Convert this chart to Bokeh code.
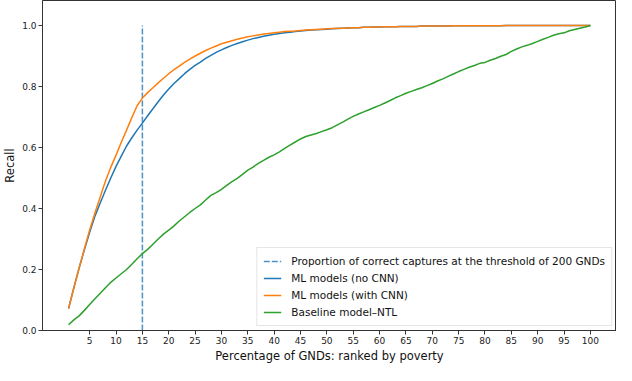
from bokeh.plotting import figure
from bokeh.models import Range1d, FixedTicker, Legend, LegendItem, NumeralTickFormatter
from bokeh.embed import file_html
from bokeh.resources import INLINE

pct = list(range(1, 101))

recall_no_cnn = [
    0.072, 0.140, 0.205, 0.265, 0.322, 0.375, 0.418, 0.460, 0.500, 0.538,
    0.572, 0.605, 0.632, 0.657, 0.680, 0.704, 0.727, 0.750, 0.772, 0.792,
    0.810, 0.826, 0.842, 0.856, 0.869, 0.880, 0.892, 0.902, 0.912, 0.920,
    0.928, 0.935, 0.941, 0.947, 0.952, 0.957, 0.961, 0.965, 0.968, 0.971,
    0.974, 0.976, 0.978, 0.980, 0.982, 0.984, 0.985, 0.986, 0.987, 0.988,
    0.989, 0.990, 0.991, 0.992, 0.993, 0.993, 0.994, 0.994, 0.995, 0.995,
    0.996, 0.996, 0.996, 0.997, 0.997, 0.997, 0.997, 0.998, 0.998, 0.998,
    0.998, 0.998, 0.998, 0.999, 0.999, 0.999, 0.999, 0.999, 0.999, 0.999,
    0.999, 0.999, 0.999, 1.000, 1.000, 1.000, 1.000, 1.000, 1.000, 1.000,
    1.000, 1.000, 1.000, 1.000, 1.000, 1.000, 1.000, 1.000, 1.000, 1.000,
]

recall_with_cnn = [
    0.072, 0.140, 0.205, 0.268, 0.330, 0.385, 0.438, 0.490, 0.535, 0.575,
    0.617, 0.657, 0.698, 0.737, 0.762, 0.780, 0.796, 0.812, 0.827, 0.842,
    0.855, 0.867, 0.879, 0.890, 0.900, 0.909, 0.918, 0.926, 0.933, 0.940,
    0.945, 0.950, 0.955, 0.959, 0.963, 0.966, 0.969, 0.972, 0.974, 0.976,
    0.978, 0.980, 0.981, 0.982, 0.984, 0.985, 0.986, 0.987, 0.988, 0.989,
    0.990, 0.991, 0.991, 0.992, 0.993, 0.993, 0.994, 0.994, 0.995, 0.995,
    0.996, 0.996, 0.996, 0.997, 0.997, 0.997, 0.997, 0.998, 0.998, 0.998,
    0.998, 0.998, 0.998, 0.999, 0.999, 0.999, 0.999, 0.999, 0.999, 0.999,
    0.999, 0.999, 0.999, 1.000, 1.000, 1.000, 1.000, 1.000, 1.000, 1.000,
    1.000, 1.000, 1.000, 1.000, 1.000, 1.000, 1.000, 1.000, 1.000, 1.000,
]

recall_baseline = [
    0.019, 0.035, 0.048, 0.066, 0.085, 0.104, 0.122, 0.140, 0.158, 0.172,
    0.186, 0.200, 0.217, 0.235, 0.252, 0.266, 0.283, 0.300, 0.316, 0.329,
    0.343, 0.359, 0.373, 0.387, 0.400, 0.412, 0.428, 0.443, 0.452, 0.463,
    0.476, 0.488, 0.499, 0.512, 0.526, 0.536, 0.548, 0.558, 0.568, 0.576,
    0.586, 0.597, 0.608, 0.618, 0.628, 0.636, 0.641, 0.646, 0.652, 0.658,
    0.665, 0.674, 0.683, 0.693, 0.702, 0.710, 0.717, 0.724, 0.731, 0.738,
    0.746, 0.754, 0.763, 0.770, 0.778, 0.784, 0.790, 0.796, 0.803, 0.810,
    0.818, 0.825, 0.833, 0.841, 0.849, 0.856, 0.863, 0.869, 0.876, 0.879,
    0.886, 0.892, 0.899, 0.905, 0.915, 0.923, 0.930, 0.935, 0.941, 0.948,
    0.955, 0.961, 0.968, 0.973, 0.976, 0.983, 0.987, 0.991, 0.995, 1.000,
]

threshold_x = [15, 15]
threshold_y = [0.0, 1.0]

x_ticks = list(range(5, 101, 5))
y_ticks = [0.0, 0.2, 0.4, 0.6, 0.8, 1.0]

legend_labels = [
    "Proportion of correct captures at the threshold of 200 GNDs",
    "ML models (no CNN)",
    "ML models (with CNN)",
    "Baseline model\u2013NTL",
]

FONT = "DejaVu Sans"

p = figure(width=616, height=365, output_backend="svg", toolbar_location=None,
           x_range=Range1d(-3.95, 104.95), y_range=Range1d(0.0, 1.082),
           min_border_top=0, min_border_right=0, min_border_left=20, min_border_bottom=5)

p.xgrid.visible = False
p.ygrid.visible = False
p.outline_line_color = "#333333"
p.outline_line_width = 1
p.outline_line_alpha = 1.0

r_thr = p.line(threshold_x, threshold_y, line_color="#1f77b4", line_alpha=0.8,
               line_width=1.5, line_dash="6 2")
r_blue = p.line(pct, recall_no_cnn, line_color="#1f77b4", line_width=1.5)
r_orange = p.line(pct, recall_with_cnn, line_color="#ff7f0e", line_width=1.5)
r_green = p.line(pct, recall_baseline, line_color="#2ca02c", line_width=1.5)

for ax in (p.xaxis[0], p.yaxis[0]):
    ax.axis_line_color = "#333333"
    ax.major_tick_line_color = "#333333"
    ax.major_tick_out = 4
    ax.major_tick_in = 0
    ax.minor_tick_line_color = None
    ax.major_label_text_font = FONT
    ax.major_label_text_font_size = "9px"
    ax.major_label_text_color = "#222222"
    ax.axis_label_text_font = FONT
    ax.axis_label_text_font_size = "11.5px"
    ax.axis_label_text_font_style = "normal"
    ax.axis_label_text_color = "#111111"
    ax.major_label_standoff = 2
    ax.axis_label_standoff = 2

p.xaxis.ticker = FixedTicker(ticks=x_ticks)
p.yaxis.ticker = FixedTicker(ticks=y_ticks)
p.yaxis.formatter = NumeralTickFormatter(format="0.0")
p.xaxis.axis_label = "Percentage of GNDs: ranked by poverty"
p.yaxis.axis_label = "Recall"

legend = Legend(items=[
    LegendItem(label=legend_labels[0], renderers=[r_thr]),
    LegendItem(label=legend_labels[1], renderers=[r_blue]),
    LegendItem(label=legend_labels[2], renderers=[r_orange]),
    LegendItem(label=legend_labels[3], renderers=[r_green]),
], location="bottom_right")
legend.label_text_font = FONT
legend.label_text_font_size = "10.5px"
legend.label_text_color = "#111111"
legend.border_line_color = "#cccccc"
legend.border_line_width = 1
legend.background_fill_alpha = 0.8
legend.glyph_width = 18
legend.glyph_height = 14
legend.label_height = 14
legend.spacing = 3
legend.padding = 6
legend.margin = 4
legend.label_standoff = 10
p.add_layout(legend)

open("out.html", "w").write(file_html(p, INLINE))
